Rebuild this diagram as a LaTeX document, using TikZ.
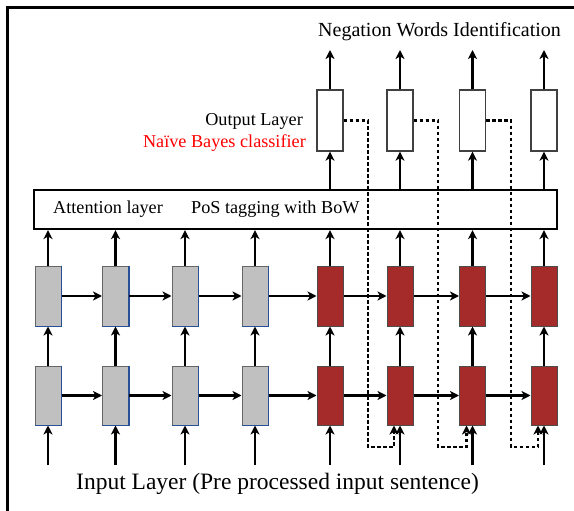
\documentclass[tikz,border=0pt]{standalone}
\usepackage{fontspec}
\setmainfont{Liberation Serif}
\usetikzlibrary{arrows.meta}
\definecolor{boxgray}{RGB}{192,192,192}
\definecolor{boxred}{RGB}{165,42,42}
\definecolor{edgeblue}{RGB}{40,80,150}
\begin{document}
\begin{tikzpicture}[x=1pt,y=-1pt,
  arr/.style={line width=2.1pt,-{Stealth[length=9pt,width=9pt,inset=2.5pt]}},
  dsh/.style={line width=2.3pt,dash pattern=on 3.5pt off 2.5pt,-{Stealth[length=9pt,width=9pt,inset=2.5pt]}},
  cell/.style={minimum width=26pt,inner sep=0pt,line width=1pt},
  gbox/.style={cell,draw=gray!80!black,fill=boxgray},
  rbox/.style={cell,draw=black!70,fill=boxred},
  obox/.style={cell,draw=black!75,fill=white,minimum height=61pt,line width=1.3pt},
  lbl/.style={inner sep=0pt,font=\fontsize{18.2}{20}\selectfont}
]
\useasboundingbox (0,0) rectangle (574,511);
\fill[white] (0,0) rectangle (574,511);
\draw[line width=3pt] (7,511) -- (7,8) -- (574,8);

% attention box
\node[draw,line width=2pt,minimum width=523pt,minimum height=39pt,inner sep=0pt] (att) at (295.3,209.6) {};
\node[lbl,anchor=base west] (tatt) at (53,213.3) {Attention layer};
\node[lbl,anchor=base west] (tpos) at (191,213.3) {PoS tagging with BoW};

% columns
\foreach \i/\x in {1/48,2/115.5,3/185,4/255}{
  \node[gbox,minimum height=60pt] (a\i) at (\x,296) {};
  \node[gbox,minimum height=59pt] (b\i) at (\x,395.5) {};
}
\foreach \i/\x in {5/330,6/400,7/472.5,8/544}{
  \node[rbox,minimum height=60pt] (a\i) at (\x,296) {};
  \node[rbox,minimum height=59pt] (b\i) at (\x,395.5) {};
  \node[obox] (o\i) at (\x,120.5) {};
  \coordinate (t\i) at (\x,50);
  \draw[arr] (o\i.north) -- (t\i);
  \draw[arr] (o\i.south |- att.north) -- (o\i.south);
}
\foreach \i in {1,...,4}{
  \draw[edgeblue,line width=1.1pt] (a\i.north east) -- (a\i.south east) -- (a\i.south west);
  \draw[edgeblue,line width=1.1pt] (b\i.north east) -- (b\i.south east) -- (b\i.south west);
}
\foreach \i/\x in {1/48,2/115.5,3/185,4/255,5/330,6/400,7/472.5,8/544}{
  \coordinate (in\i) at (\x,465);
  \draw[arr] (in\i) -- (b\i.south);
  \draw[arr] (b\i.north) -- (a\i.south);
  \draw[arr] (a\i.north) -- (a\i.north |- att.south);
}
\foreach \i/\j in {1/2,2/3,3/4,4/5,5/6,6/7,7/8}{
  \draw[arr] (a\i.east) -- (a\j.west);
  \draw[arr] (b\i.east) -- (b\j.west);
}
% dashed feedback
\coordinate (d5) at (368,447);
\coordinate (d6) at (438.3,447);
\coordinate (d7) at (511,447);
\draw[dsh] (o5.east) -| (d5) -| ([xshift=-6pt]b6.south);
\draw[dsh] (o6.east) -| (d6) -| ([xshift=-6pt]b7.south);
\draw[dsh] (o7.east) -| (d7) -| ([xshift=-6pt]b8.south);

% labels
\node[inner sep=0pt,anchor=base,font=\fontsize{20}{22}\selectfont] (neg) at (439.6,36.7) {Negation Words Identification};
\node[lbl,anchor=base east] (outl) at (303,125) {Output Layer};
\node[lbl,anchor=base east,text=red] (nb) at (306,147) {Naïve Bayes classifier};
\node[inner sep=0pt,anchor=base,font=\fontsize{23.5}{26}\selectfont] (inl) at (277.5,489.3) {Input Layer (Pre processed input sentence)};
\end{tikzpicture}
\end{document}
